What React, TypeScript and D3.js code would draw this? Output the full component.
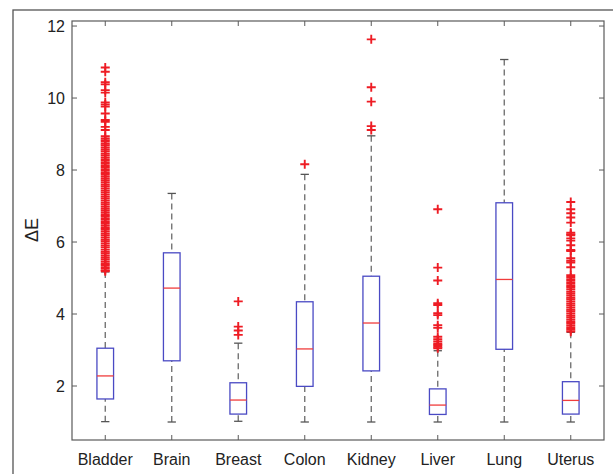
import React, { useEffect, useRef } from "react";
import * as d3 from "d3";

const categories = ["Bladder", "Brain", "Breast", "Colon", "Kidney", "Liver", "Lung", "Uterus"];
const q1 = [1.64, 2.7, 1.22, 1.99, 2.42, 1.21, 3.02, 1.22];
const medians = [2.28, 4.72, 1.61, 3.03, 3.75, 1.47, 4.96, 1.6];
const q3 = [3.05, 5.7, 2.09, 4.34, 5.05, 1.92, 7.09, 2.12];
const whiskerLow = [1.01, 1.0, 1.02, 1.0, 1.0, 1.0, 1.0, 1.0];
const whiskerHigh = [5.17, 7.35, 3.19, 7.88, 8.95, 2.98, 11.07, 3.49];

const bladderOut = [
  10.85, 10.73, 10.44, 10.38, 10.22, 10.15, 9.88, 9.82, 9.76, 9.57, 9.39, 9.34, 9.2, 9.11, 8.94, 8.88, 8.83,
  8.79, 8.73, 8.68, 8.62, 8.56, 8.51, 8.45, 8.4, 8.34, 8.28, 8.22, 8.17, 8.11, 8.06, 8.0, 7.94, 7.89, 7.83,
  7.77, 7.72, 7.66, 7.6, 7.55, 7.49, 7.43, 7.38, 7.32, 7.26, 7.21, 7.15, 7.09, 7.04, 6.98, 6.92, 6.87, 6.81,
  6.75, 6.7, 6.64, 6.58, 6.53, 6.47, 6.41, 6.36, 6.3, 6.24, 6.19, 6.13, 6.07, 6.02, 5.96, 5.9, 5.85, 5.79,
  5.73, 5.68, 5.62, 5.56, 5.51, 5.45, 5.39, 5.34, 5.28, 5.22, 5.19,
];
const brainOut: number[] = [];
const breastOut = [4.35, 3.65, 3.54, 3.42];
const colonOut = [8.16];
const kidneyOut = [11.63, 10.3, 9.9, 9.22, 9.11];
const liverOut = [6.91, 5.29, 4.93, 4.3, 4.25, 4.02, 3.97, 3.69, 3.62, 3.37, 3.3, 3.24, 3.18, 3.14, 3.09, 3.05];
const lungOut: number[] = [];
const uterusOut = [
  7.11, 6.91, 6.8, 6.68, 6.54, 6.26, 6.22, 6.19, 6.1, 6.04, 5.91, 5.78, 5.75, 5.55, 5.48, 5.43, 5.3, 5.08,
  5.03, 4.97, 4.92, 4.86, 4.8, 4.75, 4.69, 4.63, 4.58, 4.52, 4.46, 4.41, 4.35, 4.29, 4.24, 4.18, 4.12, 4.07,
  4.01, 3.95, 3.9, 3.84, 3.78, 3.73, 3.67, 3.61, 3.56, 3.51,
];
const outliers = [bladderOut, brainOut, breastOut, colonOut, kidneyOut, liverOut, lungOut, uterusOut];

const yTicks = [2, 4, 6, 8, 10, 12];

const App = () => {
  const ref = useRef<SVGSVGElement>(null);

  useEffect(() => {
    const svg = d3.select(ref.current);
    svg.selectAll("*").remove();

    const left = 72, right = 604, top = 21, bottom = 440;
    const axisColor = "#5a5a5a";
    const font = "'Liberation Sans', Arial, Helvetica, sans-serif";

    const x = d3.scaleLinear().domain([0.5, 8.5]).range([left, right]);
    const y = d3.scaleLinear().domain([0.5, 12.14]).range([bottom, top]);
    const boxW = x(1.25) - x(1);
    const capW = boxW / 2;

    // figure frame
    svg
      .append("rect")
      .attr("x", 13)
      .attr("y", 10)
      .attr("width", 620)
      .attr("height", 480)
      .attr("fill", "none")
      .attr("stroke", "#555")
      .attr("stroke-width", 1.3);

    const g = svg.append("g");

    categories.forEach((c, i) => {
      const cx = x(i + 1);
      // whiskers
      [
        [whiskerHigh[i], q3[i]],
        [whiskerLow[i], q1[i]],
      ].forEach(([w, q]) => {
        g.append("line")
          .attr("x1", cx)
          .attr("x2", cx)
          .attr("y1", y(w))
          .attr("y2", y(q))
          .attr("stroke", "#6a6a6a")
          .attr("stroke-width", 1.3)
          .attr("stroke-dasharray", "6,4");
        g.append("line")
          .attr("x1", cx - capW / 2)
          .attr("x2", cx + capW / 2)
          .attr("y1", y(w))
          .attr("y2", y(w))
          .attr("stroke", "#555")
          .attr("stroke-width", 1.3);
      });
      // box
      g.append("rect")
        .attr("x", cx - boxW / 2)
        .attr("y", y(q3[i]))
        .attr("width", boxW)
        .attr("height", y(q1[i]) - y(q3[i]))
        .attr("fill", "none")
        .attr("stroke", "#4a4ac4")
        .attr("stroke-width", 1.3);
      g.append("line")
        .attr("x1", cx - boxW / 2)
        .attr("x2", cx + boxW / 2)
        .attr("y1", y(medians[i]))
        .attr("y2", y(medians[i]))
        .attr("stroke", "#f03c3c")
        .attr("stroke-width", 1.3);
      // outliers
      const ms = 4.5;
      outliers[i].forEach((v) => {
        g.append("path")
          .attr("d", `M${cx - ms},${y(v)}H${cx + ms}M${cx},${y(v) - ms}V${y(v) + ms}`)
          .attr("stroke", "#ee1c24")
          .attr("stroke-width", 1.9)
          .attr("fill", "none");
      });
    });

    // axes box
    svg
      .append("rect")
      .attr("x", left)
      .attr("y", top)
      .attr("width", right - left)
      .attr("height", bottom - top)
      .attr("fill", "none")
      .attr("stroke", axisColor)
      .attr("stroke-width", 1.2);

    const tl = 5;
    yTicks.forEach((t) => {
      svg.append("line").attr("x1", left).attr("x2", left + tl).attr("y1", y(t)).attr("y2", y(t)).attr("stroke", axisColor);
      svg.append("line").attr("x1", right).attr("x2", right - tl).attr("y1", y(t)).attr("y2", y(t)).attr("stroke", axisColor);
      svg
        .append("text")
        .attr("x", left - 7)
        .attr("y", y(t))
        .attr("dy", "0.35em")
        .attr("text-anchor", "end")
        .attr("font-family", font)
        .attr("font-size", 16)
        .attr("fill", "#222")
        .text(t);
    });

    categories.forEach((c, i) => {
      const cx = x(i + 1);
      svg.append("line").attr("x1", cx).attr("x2", cx).attr("y1", bottom).attr("y2", bottom - tl).attr("stroke", axisColor);
      svg.append("line").attr("x1", cx).attr("x2", cx).attr("y1", top).attr("y2", top + tl).attr("stroke", axisColor);
      svg
        .append("text")
        .attr("x", cx)
        .attr("y", 465)
        .attr("text-anchor", "middle")
        .attr("font-family", font)
        .attr("font-size", 16)
        .attr("fill", "#222")
        .text(c);
    });

    svg
      .append("text")
      .attr("transform", `translate(38,230) rotate(-90)`)
      .attr("text-anchor", "middle")
      .attr("font-family", font)
      .attr("font-size", 18)
      .attr("fill", "#222")
      .text("ΔE");
  }, []);

  return (
    <svg
      ref={ref}
      width={613}
      height={474}
      style={{ position: "absolute", left: 0, top: 0, background: "#fff" }}
    />
  );
};

export default App;
